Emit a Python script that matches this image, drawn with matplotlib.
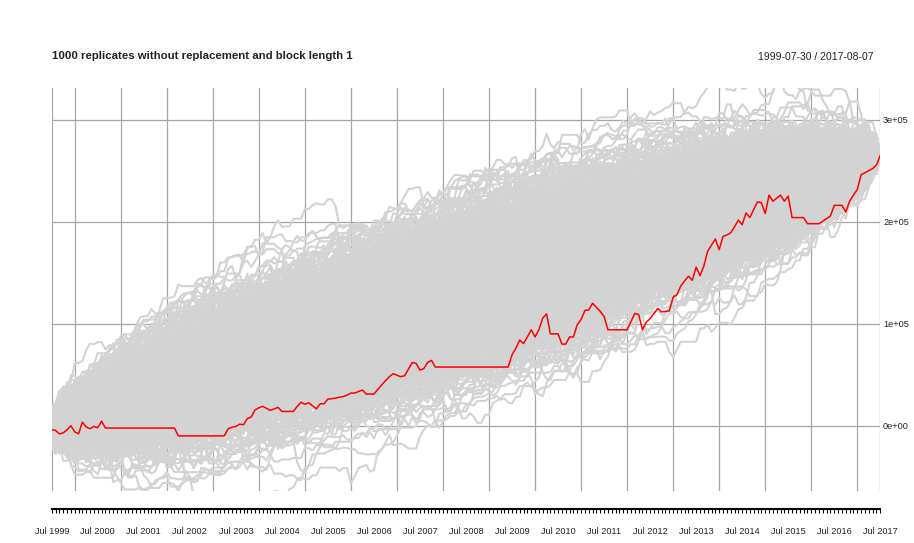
import numpy as np
import pandas as pd
import matplotlib
matplotlib.use("Agg")
import matplotlib.pyplot as plt
from matplotlib.collections import LineCollection

plt.rcParams['font.family'] = ['Liberation Sans', 'DejaVu Sans']

N_REPS = 1000
TITLE = "1000 replicates without replacement and block length 1"
RANGE_TXT = "1999-07-30 / 2017-08-07"

# original equity curve (thousands), one value per month, Jul 1999 .. Jul 2017
equity_k = (
    [-4, -4.6, -8, -7, -4, 0, -6, -8, 3.5, -1.3, -3, -0.7, -2, 4.5]
    + [-2.3] * 19
    + [-10] * 13
    + [-3, -1.5, -0.7, 1.5, 1, 7, 8.5, 15.5, 17.5, 19, 17, 15, 16.5, 18]
    + [14] * 4
    + [19, 23, 21, 22.5, 19.5, 16.5, 21.5, 21.5, 26, 26.5,
       27, 28, 28.5, 30, 32, 32, 33.5, 35, 31, 31,
       31, 35.5, 40, 44, 48, 51, 49.5, 48, 49, 55.5,
       62, 61, 54.5, 56, 62, 64]
    + [57.5] * 20
    + [69.5, 76, 84, 80.5, 87, 94, 87, 94, 105.5, 109.5]
    + [90] * 3
    + [80, 80, 87, 87, 99, 104, 113, 113.5, 120, 116, 112, 107]
    + [94] * 6
    + [102, 110, 109, 94, 101.5, 105, 110, 115, 111.5, 112,
       112.5, 126, 128.5, 137, 142, 146.5, 142.5, 155.5, 147, 156.5,
       171, 177, 183, 172.5, 185.5, 187, 189, 195, 201.5, 197,
       208.5, 204, 212, 219.5, 218.5, 208, 226, 220, 223, 226,
       220, 225]
    + [204] * 4
    + [198] * 4
    + [200.5, 203, 205.5, 216, 216, 216, 209.5, 220, 226, 231.5,
       246, 248, 250, 252, 255.5, 265]
)

y_ticks = [0, 100000, 200000, 300000]
y_labels = ["0e+00", "1e+05", "2e+05", "3e+05"]

equity = np.array(equity_k) * 1000.0
months = pd.date_range("1999-07-01", periods=len(equity), freq="MS")
idx = np.arange(len(equity))

# bootstrap: reshuffle the monthly changes (no replacement, block length 1)
incr = np.diff(equity, prepend=0.0)
rng = np.random.default_rng(7)
reps = [np.cumsum(rng.permutation(incr)) for _ in range(N_REPS)]

fig = plt.figure(figsize=(9.14, 5.43), dpi=100)
ax = fig.add_axes([51.7 / 914, 52 / 543, (880.3 - 51.7) / 914, 403 / 543])

grid_col = "#A6A6A6"
for yv in y_ticks:
    ax.axhline(yv, color=grid_col, lw=0.9, zorder=0)
jan_idx = [i for i, m in enumerate(months) if m.month == 1]
for xv in [0] + jan_idx + [idx[-1]]:
    ax.axvline(xv, color=grid_col, lw=0.9, zorder=0)

segs = [np.column_stack([idx, r]) for r in reps]
ax.add_collection(LineCollection(segs, colors="#D3D3D3", linewidths=1.5, zorder=1))
ax.plot(idx, equity, color="#FF0000", lw=1.1, zorder=2)

ax.set_xlim(0, idx[-1])
ax.set_ylim(-64000, 331000)

for s in ["top", "left", "right"]:
    ax.spines[s].set_visible(False)
ax.spines["bottom"].set_position(("outward", 13))
ax.spines["bottom"].set_linewidth(1.5)
ax.spines["bottom"].set_bounds(0, idx[-1])

ax.set_xticks(idx)
ax.set_xticklabels([m.strftime("Jul %Y") if m.month == 7 else "" for m in months])
ax.tick_params(axis="x", length=3, width=0.8, pad=10, labelsize=6.6, labelcolor="#222222")

ax.yaxis.tick_right()
ax.set_yticks(y_ticks)
ax.set_yticklabels(y_labels)
ax.tick_params(axis="y", length=0, pad=2, labelsize=6.6, labelcolor="#222222")

fig.text(51.7 / 914, 1 - 56 / 543, TITLE, fontsize=8.2, fontweight="bold",
         color="#222222", ha="left", va="center")
fig.text(874 / 914, 1 - 57 / 543, RANGE_TXT, fontsize=7.5,
         color="#222222", ha="right", va="center")

fig.savefig("out.png", dpi=100)
